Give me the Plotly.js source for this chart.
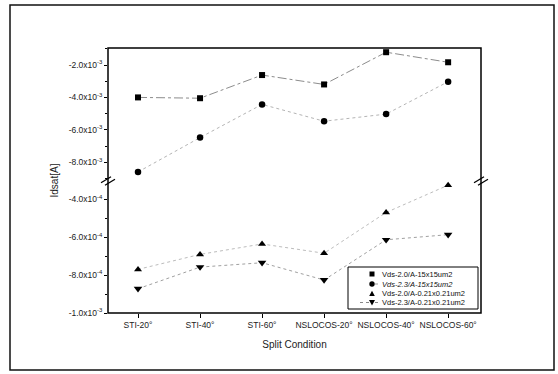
<!DOCTYPE html>
<html>
<head>
<meta charset="utf-8">
<script src="https://cdn.plot.ly/plotly-3.0.1.min.js"></script>
<style>html,body{margin:0;padding:0;background:#fff;}#chart{width:558px;height:374px;}</style>
</head>
<body>
<div id="chart"></div>
<script>
// ---- data ----
const categories = ["STI-20°", "STI-40°", "STI-60°", "NSLOCOS-20°", "NSLOCOS-40°", "NSLOCOS-60°"];
const seriesNames = ["Vds-2.0/A-15x15um2", "Vds-2.3/A-15x15um2", "Vds-2.0/A-0.21x0.21um2", "Vds-2.3/A-0.21x0.21um2"];
// upper segment (x10^-3 A)
const vds20_15 = [-4.0, -4.05, -2.62, -3.2, -1.21, -1.83];
const vds23_15 = [-8.6, -6.48, -4.43, -5.47, -5.03, -3.03];
// lower segment (x10^-4 A)
const vds20_021 = [-7.7, -6.91, -6.36, -6.85, -4.70, -3.26];
const vds23_021 = [-8.72, -7.58, -7.35, -8.26, -6.14, -5.87];
const upperTickVals = [-2, -4, -6, -8];
const upperTickText = ["-2.0x10<sup>-3</sup>", "-4.0x10<sup>-3</sup>", "-6.0x10<sup>-3</sup>", "-8.0x10<sup>-3</sup>"];
const lowerTickVals = [-4, -6, -8, -10];
const lowerTickText = ["-4.0x10<sup>-4</sup>", "-6.0x10<sup>-4</sup>", "-8.0x10<sup>-4</sup>", "-1.0x10<sup>-3</sup>"];

// ---- geometry helpers (plot area 108..481 x 48..313) ----
const L = 108, R = 481, T = 48, B = 313;
const W = R - L, H = B - T;
const px = v => (v - L) / W;
const py = v => (B - v) / H;
const split = py(181);

const font = "Liberation Sans, Arial, sans-serif";

const traces = [
  {x: categories, y: vds20_15, yaxis: "y2", name: seriesNames[0], mode: "lines+markers",
   line: {color: "#8c8c8c", width: 1, dash: "dashdot"}, marker: {symbol: "square", size: 6, color: "#000"}},
  {x: categories, y: vds23_15, yaxis: "y2", name: seriesNames[1], mode: "lines+markers",
   line: {color: "#b4b4b4", width: 1, dash: "dot"}, marker: {symbol: "circle", size: 6.5, color: "#000"}},
  {x: categories, y: vds20_021, yaxis: "y", name: seriesNames[2], mode: "lines+markers",
   line: {color: "#bcbcbc", width: 1, dash: "dot"}, marker: {symbol: "triangle-up", size: 7, color: "#000"}},
  {x: categories, y: vds23_021, yaxis: "y", name: seriesNames[3], mode: "lines+markers",
   line: {color: "#a0a0a0", width: 1, dash: "dot"}, marker: {symbol: "triangle-down", size: 7.5, color: "#000"}}
];

const tickFont = {family: font, size: 8.5, color: "#222"};

const shapes = [
  // outer frame
  {type: "rect", xref: "paper", yref: "paper", x0: px(10), x1: px(554), y0: py(370), y1: py(5),
   line: {color: "#111", width: 1.5}},
  // plot border
  {type: "rect", xref: "paper", yref: "paper", x0: 0, x1: 1, y0: 0, y1: 1, line: {color: "#000", width: 1.5}},
];
// break marks on both axes
[L, R].forEach(cx => {
  [-2, 2].forEach(off => {
    shapes.push({type: "line", xref: "paper", yref: "paper",
      x0: px(cx - 5 + off), y0: py(184 + off * 0.6), x1: px(cx + 5 + off), y1: py(178 + off * 0.6),
      line: {color: "#000", width: 1.3}});
  });
});

// manual compact legend
const legTop = 267, legBottom = 309, legLeft = 348, legRight = 478;
shapes.push({type: "rect", xref: "paper", yref: "paper", x0: px(legLeft), x1: px(legRight),
  y0: py(legBottom), y1: py(legTop), line: {color: "#000", width: 1}, fillcolor: "#fff", layer: "above"});
const legY = [274, 284, 293.5, 302.5];
const symX = 372;
// symbols
shapes.push({type: "rect", xref: "paper", yref: "paper", x0: px(symX - 2.5), x1: px(symX + 2.5),
  y0: py(legY[0] + 2.5), y1: py(legY[0] - 2.5), fillcolor: "#000", line: {width: 0}, layer: "above"});
shapes.push({type: "circle", xref: "paper", yref: "paper", x0: px(symX - 2.7), x1: px(symX + 2.7),
  y0: py(legY[1] + 2.7), y1: py(legY[1] - 2.7), fillcolor: "#000", line: {width: 0}, layer: "above"});
shapes.push({type: "line", xref: "paper", yref: "paper", x0: px(symX + 3), x1: px(symX + 8),
  y0: py(legY[1]), y1: py(legY[1]), line: {color: "#999", width: 1, dash: "dot"}, layer: "above"});
shapes.push({type: "path", xref: "paper", yref: "paper", layer: "above", fillcolor: "#000", line: {width: 0},
  path: `M ${px(symX - 2.8)} ${py(legY[2] + 2.4)} L ${px(symX + 2.8)} ${py(legY[2] + 2.4)} L ${px(symX)} ${py(legY[2] - 2.8)} Z`});
shapes.push({type: "line", xref: "paper", yref: "paper", x0: px(symX - 12), x1: px(symX - 3),
  y0: py(legY[3]), y1: py(legY[3]), line: {color: "#888", width: 1, dash: "dot"}, layer: "above"});
shapes.push({type: "line", xref: "paper", yref: "paper", x0: px(symX + 3), x1: px(symX + 8),
  y0: py(legY[3]), y1: py(legY[3]), line: {color: "#888", width: 1, dash: "dot"}, layer: "above"});
shapes.push({type: "path", xref: "paper", yref: "paper", layer: "above", fillcolor: "#000", line: {width: 0},
  path: `M ${px(symX - 3)} ${py(legY[3] - 2.6)} L ${px(symX + 3)} ${py(legY[3] - 2.6)} L ${px(symX)} ${py(legY[3] + 3)} Z`});

const annotations = seriesNames.map((n, i) => ({
  xref: "paper", yref: "paper", x: px(380), y: py(legY[i]), xanchor: "left", yanchor: "middle",
  text: i === 1 ? "<i>" + n + "</i>" : n, showarrow: false,
  font: {family: font, size: 7.5, color: "#111"}
}));
annotations.push({xref: "paper", yref: "paper", x: px(54), y: 0.5, textangle: -90, text: "Idsat[A]",
  showarrow: false, font: {family: font, size: 10, color: "#222"}, xanchor: "center", yanchor: "middle"});

const layout = {
  width: 558, height: 374,
  margin: {l: L, r: 558 - R, t: T, b: 374 - B, pad: 0},
  paper_bgcolor: "#fff", plot_bgcolor: "#fff",
  showlegend: false,
  xaxis: {type: "category", range: [-0.484, 5.53], anchor: "y", showline: false, showgrid: false, zeroline: false,
    ticks: "outside", ticklen: 4, tickwidth: 1, tickcolor: "#000", tickfont: tickFont,
    title: {text: "Split Condition", font: {family: font, size: 10, color: "#222"}, standoff: 11}},
  yaxis: {domain: [0, split], range: [-10.0, -3.04], showgrid: false, zeroline: false, showline: false,
    ticks: "outside", ticklen: 3, tickwidth: 1, tickcolor: "#000",
    tickvals: lowerTickVals, ticktext: lowerTickText, tickfont: tickFont,
    minor: {tickvals: [-5, -7, -9], ticks: "outside", ticklen: 2, tickcolor: "#000"}},
  yaxis2: {domain: [split, 1], range: [-9.16, -0.95], anchor: "x", showgrid: false, zeroline: false, showline: false,
    ticks: "outside", ticklen: 3, tickwidth: 1, tickcolor: "#000",
    tickvals: upperTickVals, ticktext: upperTickText, tickfont: tickFont,
    minor: {tickvals: [-1, -3, -5, -7, -9], ticks: "outside", ticklen: 2, tickcolor: "#000"}},
  shapes: shapes,
  annotations: annotations
};

Plotly.newPlot("chart", traces, layout, {staticPlot: true, displayModeBar: false});
</script>
</body>
</html>
